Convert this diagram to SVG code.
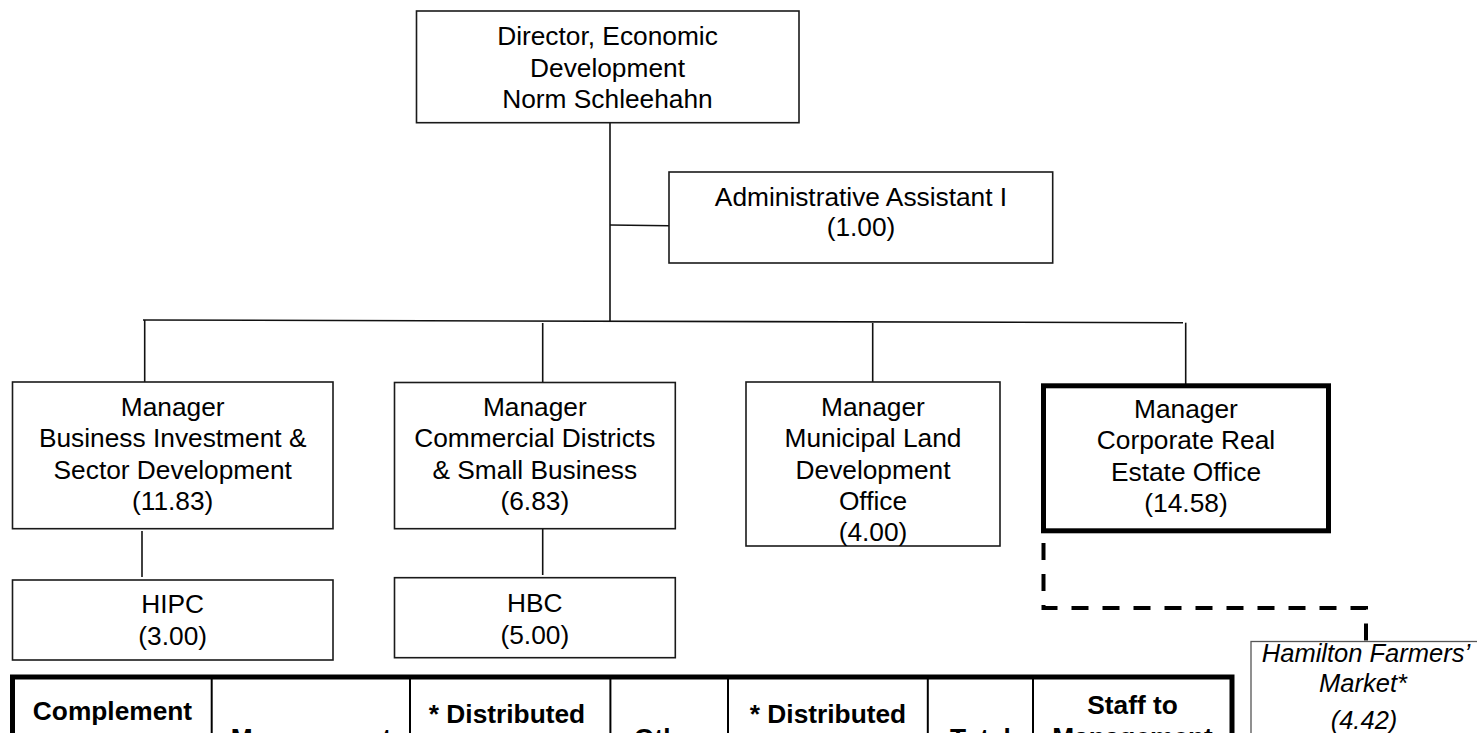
<svg xmlns="http://www.w3.org/2000/svg" width="1477" height="733" viewBox="0 0 1477 733">
<style>
.box{fill:#fff;stroke:#1a1a1a;stroke-width:1.6}
.thick{fill:#fff;stroke:#000;stroke-width:5}
.fm{fill:#fff;stroke:#555;stroke-width:1.3}
.t{font-family:"Liberation Sans",Arial,sans-serif;font-size:26.3px;fill:#000;text-anchor:middle}
.ti{font-family:"Liberation Sans",Arial,sans-serif;font-size:25.5px;font-style:italic;fill:#000;text-anchor:middle}
.th{font-family:"Liberation Sans",Arial,sans-serif;font-size:26.3px;font-weight:bold;fill:#000;text-anchor:middle}
.ln{fill:none;stroke:#111;stroke-width:1.6}
.dash{fill:none;stroke:#000;stroke-width:4;stroke-dasharray:17 14}
</style>
<g id="connectors">
<line class="ln" x1="610" y1="123" x2="610" y2="321.5"/>
<line class="ln" x1="610" y1="225" x2="669" y2="225.7"/>
<line class="ln" x1="143" y1="320" x2="1183" y2="322.7"/>
<line class="ln" x1="144.7" y1="320" x2="144.7" y2="382"/>
<line class="ln" x1="542.7" y1="323" x2="542.7" y2="382"/>
<line class="ln" x1="872.7" y1="323" x2="872.7" y2="382"/>
<line class="ln" x1="1185.7" y1="322.7" x2="1185.7" y2="384"/>
<line class="ln" x1="142" y1="531" x2="142" y2="577"/>
<line class="ln" x1="542.7" y1="529" x2="542.7" y2="575"/>
<path class="dash" d="M1043.5,543 V608 H1366 V641"/>
</g>
<g id="director">
<rect class="box" x="416.5" y="11" width="382.5" height="111.7"/>
<text class="t" x="607.5" y="45">Director, Economic</text>
<text class="t" x="607.5" y="76.5">Development</text>
<text class="t" x="607.5" y="107.7">Norm Schleehahn</text>
</g>
<g id="admin">
<rect class="box" x="669" y="172" width="383.7" height="91"/>
<text class="t" x="861" y="205.7">Administrative Assistant I</text>
<text class="t" x="861" y="235.5">(1.00)</text>
</g>
<g id="mgr-business">
<rect class="box" x="12.5" y="382" width="320.5" height="146.7"/>
<text class="t" x="172.7" y="416">Manager</text>
<text class="t" x="172.7" y="447.3">Business Investment &amp;</text>
<text class="t" x="172.7" y="478.6">Sector Development</text>
<text class="t" x="172.7" y="510">(11.83)</text>
</g>
<g id="hipc">
<rect class="box" x="12.5" y="580" width="320.5" height="80"/>
<text class="t" x="172.7" y="613">HIPC</text>
<text class="t" x="172.7" y="644.7">(3.00)</text>
</g>
<g id="mgr-commercial">
<rect class="box" x="394.5" y="382.5" width="280.8" height="146.2"/>
<text class="t" x="534.8" y="416">Manager</text>
<text class="t" x="534.8" y="447.3">Commercial Districts</text>
<text class="t" x="534.8" y="478.6">&amp; Small Business</text>
<text class="t" x="534.8" y="510">(6.83)</text>
</g>
<g id="hbc">
<rect class="box" x="394.5" y="577.7" width="280.8" height="80"/>
<text class="t" x="534.8" y="612.3">HBC</text>
<text class="t" x="534.8" y="644">(5.00)</text>
</g>
<g id="mgr-municipal">
<rect class="box" x="746" y="382" width="254" height="164"/>
<text class="t" x="873" y="416">Manager</text>
<text class="t" x="873" y="447.3">Municipal Land</text>
<text class="t" x="873" y="478.6">Development</text>
<text class="t" x="873" y="510">Office</text>
<text class="t" x="873" y="541.3">(4.00)</text>
</g>
<g id="mgr-realestate">
<rect class="thick" x="1043.5" y="385.8" width="285" height="145"/>
<text class="t" x="1186" y="417.5">Manager</text>
<text class="t" x="1186" y="449">Corporate Real</text>
<text class="t" x="1186" y="480.5">Estate Office</text>
<text class="t" x="1186" y="512">(14.58)</text>
</g>
<g id="farmers-market">
<rect class="fm" x="1251" y="641.5" width="240" height="120"/>
<text class="ti" x="1366" y="661.7">Hamilton Farmers’</text>
<text class="ti" x="1363" y="691.7">Market*</text>
<text class="ti" x="1364" y="729">(4.42)</text>
</g>
<g id="table">
<g fill="none" stroke="#000">
<path d="M12.5,760 V677 H1232 V760" stroke-width="5"/>
<g stroke-width="2">
<line x1="211.7" y1="675" x2="211.7" y2="760"/>
<line x1="410" y1="675" x2="410" y2="760"/>
<line x1="610.4" y1="675" x2="610.4" y2="760"/>
<line x1="728" y1="675" x2="728" y2="760"/>
<line x1="927.8" y1="675" x2="927.8" y2="760"/>
<line x1="1033" y1="675" x2="1033" y2="760"/>
</g>
</g>
<text class="th" x="112.5" y="720">Complement</text>
<text class="th" x="311" y="747">Management</text>
<text class="th" x="507" y="722.5">* Distributed</text>
<text class="th" x="669" y="747">Other</text>
<text class="th" x="828" y="722.5">* Distributed</text>
<text class="th" x="980.5" y="747">Total</text>
<text class="th" x="1132.5" y="714">Staff to</text>
<text class="th" x="1132.5" y="745.5">Management</text>
</g>
</svg>
